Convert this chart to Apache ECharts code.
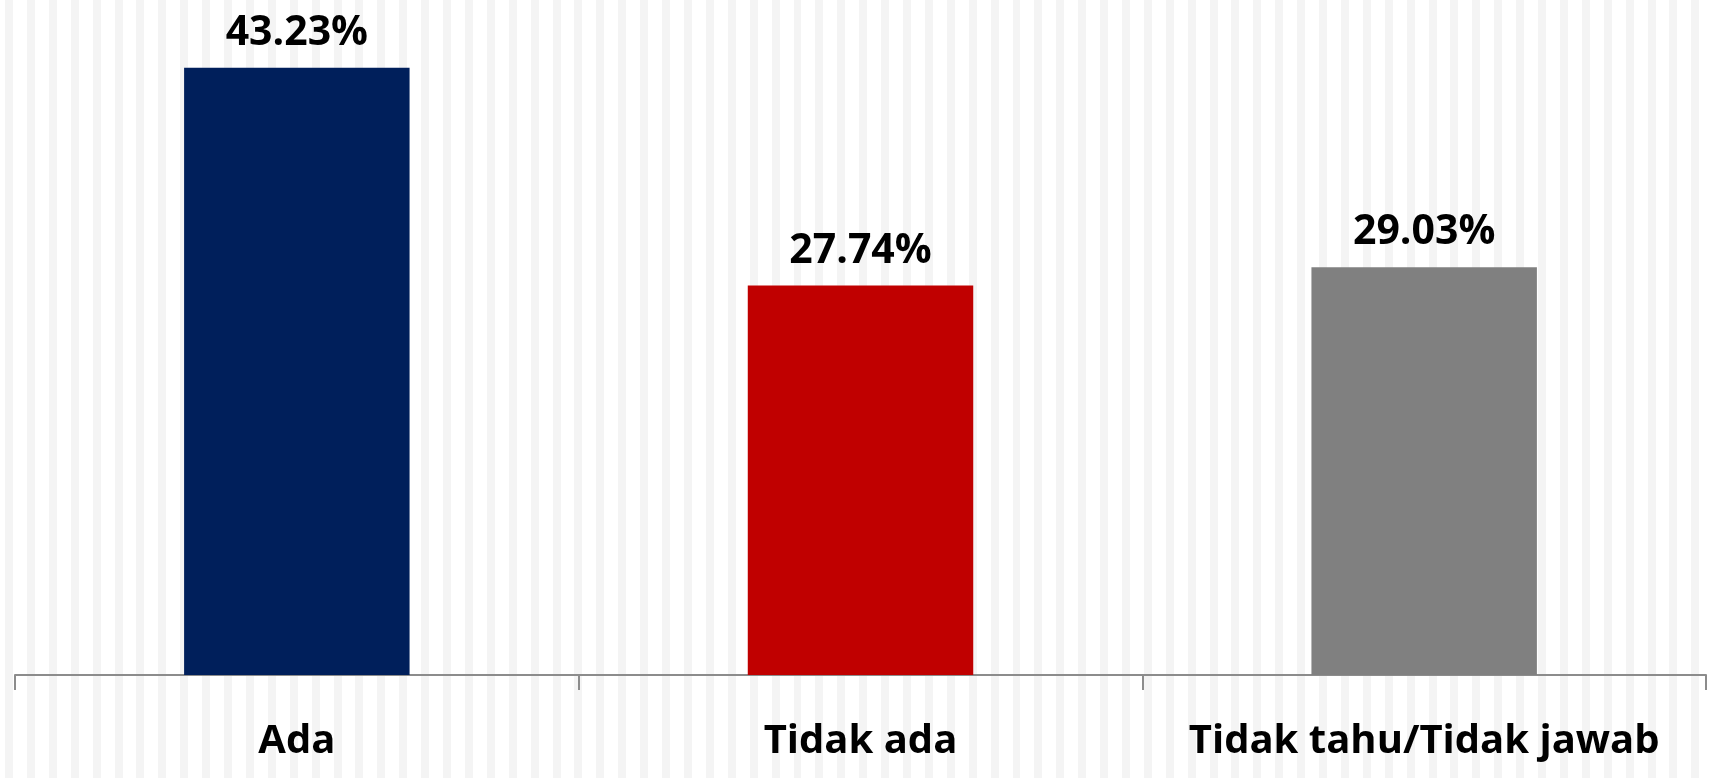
<!DOCTYPE html>
<html>
<head>
<meta charset="utf-8">
<script src="https://cdn.jsdelivr.net/npm/echarts@6/dist/echarts.min.js"></script>
<style>
  html, body { margin: 0; padding: 0; }
  body {
    width: 1709px; height: 778px; overflow: hidden;
    background: repeating-linear-gradient(90deg,
      #ffffff 0px, #ffffff 5.1px,
      #f4f4f4 5.1px, #f4f4f4 13.1px,
      #ffffff 13.1px, #ffffff 21.9px);
  }
  #chart { width: 1709px; height: 778px; }
</style>
</head>
<body>
<div id="chart"></div>
<script>
const categories = ['Ada', 'Tidak ada', 'Tidak tahu/Tidak jawab'];
const values = [43.23, 27.74, 29.03];
const barColors = ['#001F5B', '#C00000', '#808080'];

const chart = echarts.init(document.getElementById('chart'));
chart.setOption({
  backgroundColor: 'transparent',
  animation: false,
  grid: { left: 15, right: 3, top: 43, bottom: 103, containLabel: false },
  xAxis: {
    type: 'category',
    data: categories,
    axisLine: { show: true, lineStyle: { color: '#8c8c8c', width: 2 } },
    axisTick: { show: true, interval: 0, length: 15, alignWithLabel: false, lineStyle: { color: '#8c8c8c', width: 2 } },
    axisLabel: {
      interval: 0,
      margin: 47,
      color: '#000000',
      fontFamily: 'Open Sans',
      fontWeight: 'bold',
      fontSize: 40
    }
  },
  yAxis: {
    type: 'value',
    min: 0,
    max: 45,
    show: false,
    splitLine: { show: false }
  },
  series: [{
    type: 'bar',
    barWidth: '40%',
    data: values.map((v, i) => ({ value: v, itemStyle: { color: barColors[i] } })),
    label: {
      show: true,
      position: 'top',
      distance: 14,
      formatter: p => p.value.toFixed(2) + '%',
      color: '#000000',
      fontFamily: 'Open Sans',
      fontWeight: 'bold',
      fontSize: 41
    }
  }]
});
</script>
</body>
</html>
